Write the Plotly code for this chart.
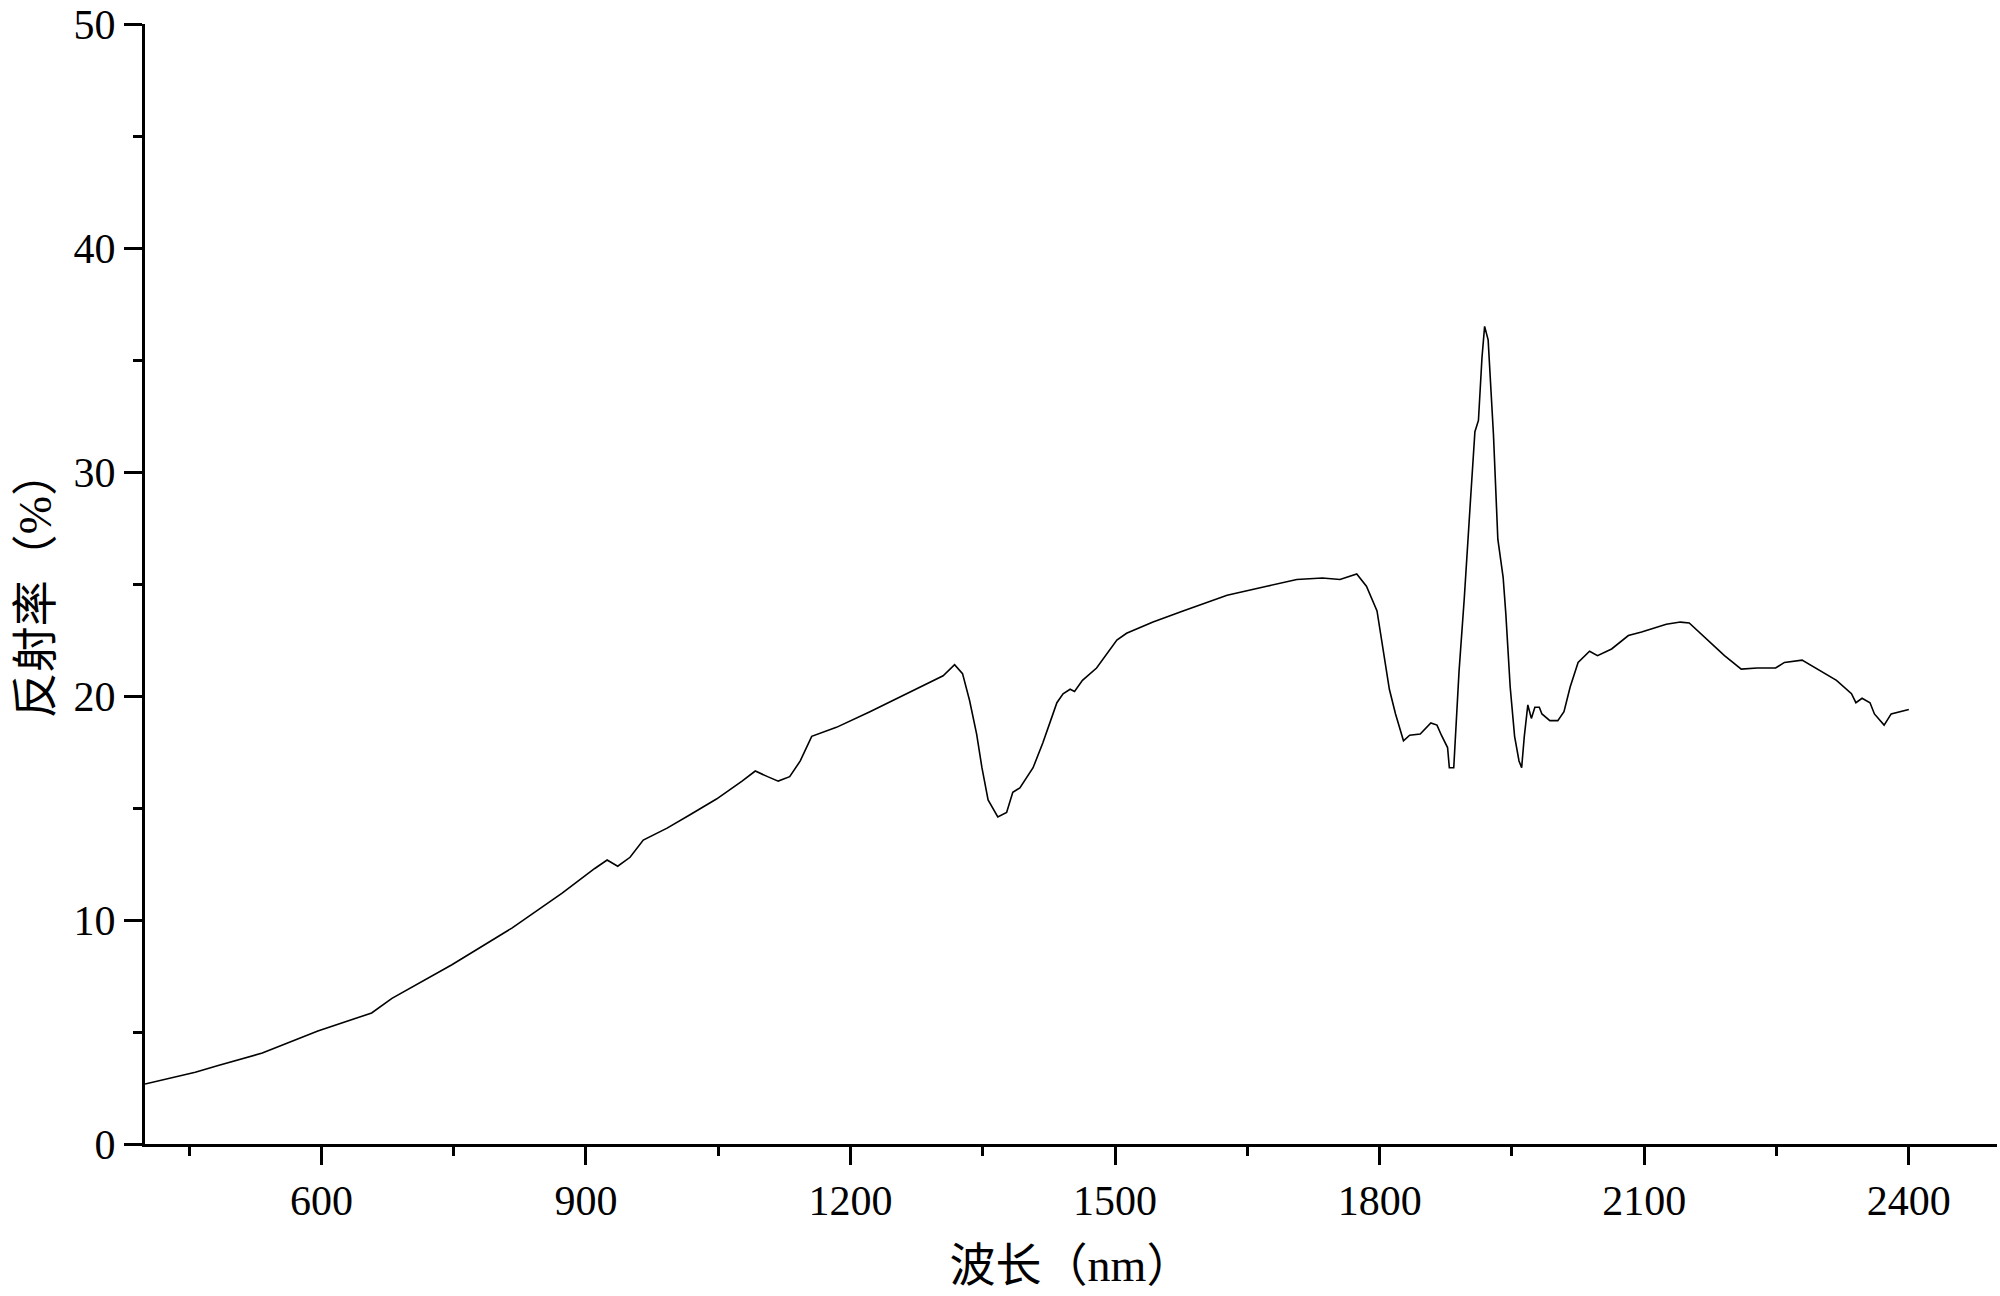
import plotly.graph_objects as go

# wavelength (nm) and reflectance (%)
wavelength = [400, 457, 483, 533, 596, 657, 680, 748, 816, 873, 910, 924, 936, 950, 965,
              992, 1018, 1048, 1077, 1092, 1106, 1118, 1131, 1143, 1156, 1184, 1222, 1264,
              1305, 1318, 1327, 1335, 1343, 1349, 1356, 1367, 1377, 1384, 1392, 1407, 1418,
              1426, 1434, 1441, 1449, 1454, 1463, 1479, 1491, 1502, 1513, 1543, 1577, 1627,
              1672, 1706, 1735, 1755, 1774, 1785, 1797, 1804, 1811, 1818, 1827, 1834, 1846,
              1858, 1865, 1870, 1877, 1879, 1884, 1890, 1896, 1903, 1908, 1912, 1916, 1919,
              1923, 1929, 1934, 1940, 1943, 1948, 1953, 1958, 1961, 1964, 1968, 1972, 1976,
              1981, 1984, 1993, 2002, 2009, 2016, 2025, 2038, 2047, 2063, 2082, 2097, 2125,
              2141, 2151, 2172, 2191, 2210, 2228, 2249, 2259, 2279, 2300, 2318, 2335, 2340,
              2347, 2356, 2361, 2372, 2380, 2400]
reflectance = [2.68, 3.2, 3.5, 4.06, 5.04, 5.85, 6.5, 8.0, 9.64, 11.2, 12.3, 12.68, 12.4, 12.8, 13.57,
               14.1, 14.7, 15.4, 16.2, 16.65, 16.4, 16.2, 16.4, 17.1, 18.2, 18.6, 19.3, 20.1,
               20.9, 21.4, 21.0, 19.8, 18.3, 16.8, 15.36, 14.6, 14.8, 15.7, 15.9, 16.8, 17.9,
               18.8, 19.7, 20.1, 20.3, 20.2, 20.7, 21.25, 21.9, 22.5, 22.8, 23.3, 23.8, 24.5,
               24.9, 25.2, 25.27, 25.2, 25.45, 24.9, 23.8, 22.0, 20.3, 19.2, 18.0, 18.25, 18.3,
               18.8, 18.7, 18.25, 17.7, 16.8, 16.8, 21.1, 24.4, 28.75, 31.8, 32.3, 35.1, 36.5,
               35.9, 31.7, 27.0, 25.3, 23.7, 20.4, 18.2, 17.1, 16.8, 18.2, 19.6, 19.0, 19.5,
               19.5, 19.2, 18.9, 18.9, 19.3, 20.4, 21.5, 22.0, 21.8, 22.1, 22.7, 22.86, 23.2,
               23.3, 23.26, 22.5, 21.8, 21.2, 21.25, 21.25, 21.5, 21.6, 21.1, 20.7, 20.1, 19.7,
               19.9, 19.7, 19.2, 18.7, 19.2, 19.4]

x_title = "波长（nm）"
y_title = "反射率（%）"

fig = go.Figure()
fig.add_trace(go.Scatter(x=wavelength, y=reflectance, mode="lines",
                         line=dict(color="black", width=1.6), showlegend=False))

tick_font = dict(family="Liberation Serif", size=42, color="black")
title_font = dict(family="Liberation Serif, Noto Sans CJK SC", size=46, color="black")

fig.update_xaxes(range=[400, 2500], tick0=0, dtick=300, ticks="outside", ticklen=18, tickwidth=3,
                 tickcolor="black", showline=True, linewidth=3, linecolor="black",
                 showgrid=False, zeroline=False, tickfont=tick_font, ticklabeloverflow="allow",
                 minor=dict(tick0=450, dtick=300, ticks="outside", ticklen=9, tickwidth=3,
                            tickcolor="black", showgrid=False),
                 title=dict(text=x_title, font=title_font, standoff=26))
fig.update_yaxes(range=[0, 50], tick0=0, dtick=10, ticks="outside", ticklen=18, tickwidth=3,
                 tickcolor="black", showline=True, linewidth=3, linecolor="black",
                 showgrid=False, zeroline=False, tickfont=tick_font, ticklabeloverflow="allow",
                 minor=dict(tick0=5, dtick=10, ticks="outside", ticklen=9, tickwidth=3,
                            tickcolor="black", showgrid=False),
                 title=dict(text=y_title, font=title_font, standoff=8))

fig.update_layout(width=2000, height=1296, plot_bgcolor="white", paper_bgcolor="white",
                  margin=dict(l=145, r=3, t=24, b=152, autoexpand=False))

# drop the default 8 px page margin so the figure sits at the window corner
fig.write_html("out.html", config={"displayModeBar": False},
               post_script="document.body.style.margin='0';")
